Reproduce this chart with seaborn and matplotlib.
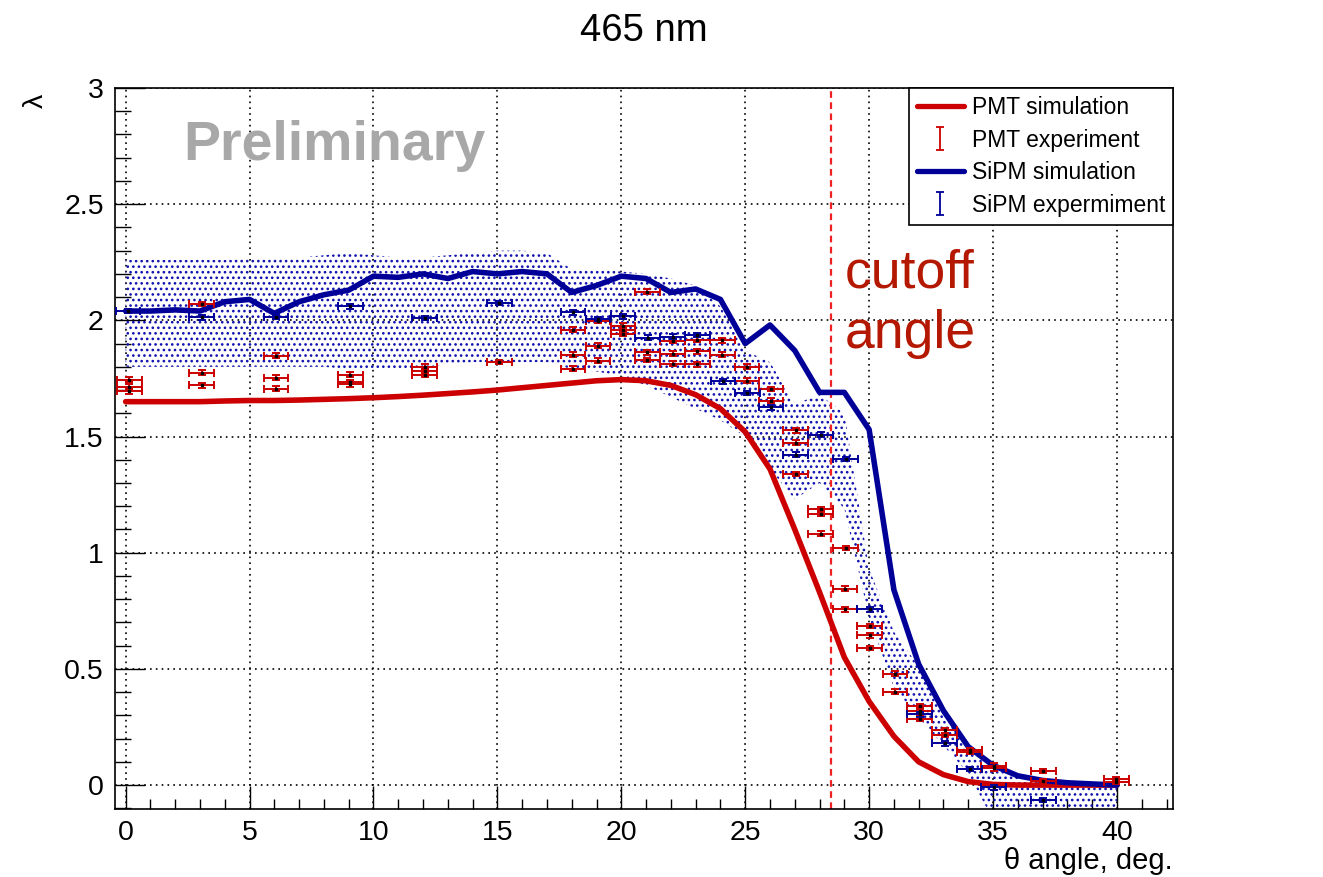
import numpy as np
import pandas as pd

import matplotlib
matplotlib.use("Agg")
import matplotlib.pyplot as plt
from matplotlib.lines import Line2D
from matplotlib.ticker import MultipleLocator

import seaborn as sns

# simulation curves, one value per degree (0..40)
sim_angle = list(range(0, 41))
pmt_sim = [1.65, 1.65, 1.65, 1.65, 1.653, 1.655, 1.655, 1.657, 1.66, 1.663,
           1.667, 1.672, 1.678, 1.685, 1.692, 1.70, 1.71, 1.72, 1.73, 1.74,
           1.745, 1.74, 1.72, 1.68, 1.62, 1.52, 1.36, 1.10, 0.83, 0.55,
           0.36, 0.21, 0.10, 0.045, 0.015, 0.003, 0.0, 0.0, 0.0, 0.0, 0.0]
sipm_sim = [2.04, 2.04, 2.045, 2.04, 2.08, 2.09, 2.03, 2.08, 2.11, 2.13,
            2.19, 2.185, 2.20, 2.18, 2.21, 2.20, 2.21, 2.20, 2.12, 2.15,
            2.19, 2.18, 2.12, 2.135, 2.09, 1.90, 1.98, 1.87, 1.69, 1.69,
            1.53, 0.84, 0.52, 0.32, 0.165, 0.085, 0.04, 0.02, 0.01, 0.005, 0.0]

# SiPM uncertainty band
band_upper = [2.26, 2.26, 2.26, 2.26, 2.26, 2.265, 2.27, 2.27, 2.28, 2.29,
              2.28, 2.27, 2.27, 2.28, 2.29, 2.30, 2.30, 2.29, 2.22, 2.22,
              2.21, 2.20, 2.18, 2.15, 2.06, 1.87, 1.82, 1.64, 1.68, 1.60,
              0.93, 0.66, 0.51, 0.31, 0.18, 0.09, 0.05, 0.03, 0.015, 0.005, 0.0]
band_lower = [1.80, 1.80, 1.80, 1.80, 1.80, 1.80, 1.80, 1.80, 1.80, 1.79,
              1.79, 1.79, 1.80, 1.81, 1.82, 1.82, 1.82, 1.82, 1.79, 1.78,
              1.76, 1.72, 1.67, 1.62, 1.57, 1.50, 1.36, 1.23, 1.30, 1.19,
              0.72, 0.42, 0.29, 0.17, 0.05, -0.15, -0.2, -0.2, -0.2, -0.2, -0.2]

# PMT measurements
pmt_x = [0.15, 0.15, 0.15, 3.07, 3.07, 3.07, 6.07, 6.07, 6.07, 9.07, 9.07, 9.07,
         12.07, 12.07, 12.07, 15.07, 18.05, 18.05, 18.05, 19.06, 19.06, 19.06,
         20.07, 20.07, 20.07, 21.05, 21.05, 21.05, 22.08, 22.08, 22.08,
         23.06, 23.06, 23.06, 24.07, 24.07, 25.07, 25.07, 26.04, 26.04,
         27.04, 27.04, 27.04, 28.05, 28.05, 28.05, 29.05, 29.03, 29.03,
         30.03, 30.03, 30.03, 31.04, 31.04, 32.04, 32.04, 32.04, 33.05, 33.05,
         34.06, 34.06, 35.03, 35.03, 37.03, 37.03, 39.98, 39.98]
pmt_y = [1.745, 1.715, 1.695, 2.07, 1.775, 1.72, 1.848, 1.753, 1.706, 1.766, 1.735, 1.725,
         1.80, 1.78, 1.765, 1.82, 1.96, 1.852, 1.792, 1.998, 1.891, 1.826,
         1.977, 1.96, 1.943, 2.124, 1.862, 1.83, 1.912, 1.856, 1.813,
         1.917, 1.866, 1.81, 1.914, 1.852, 1.801, 1.74, 1.704, 1.654,
         1.526, 1.473, 1.339, 1.186, 1.168, 1.082, 1.021, 0.845, 0.756,
         0.685, 0.645, 0.59, 0.48, 0.402, 0.34, 0.318, 0.286, 0.236, 0.215,
         0.15, 0.143, 0.083, 0.072, 0.061, 0.018, 0.026, 0.015]

# SiPM measurements
sipm_x = [0.1, 3.07, 6.07, 9.07, 12.07, 15.07, 18.05, 19.06, 20.07, 21.07, 22.08,
          23.06, 24.1, 25.09, 26.04, 27.04, 28.05, 29.05, 30.03, 32.04, 33.05,
          34.06, 35.03, 37.03]
sipm_y = [2.04, 2.013, 2.015, 2.06, 2.01, 2.075, 2.035, 2.006, 2.017, 1.926, 1.93,
          1.937, 1.737, 1.687, 1.625, 1.422, 1.508, 1.403, 0.756, 0.305, 0.18,
          0.069, -0.01, -0.064]

angle_err = 0.5
lambda_err = 0.01
cutoff_angle = 28.45

red = "#CC0000"
blue = "#000099"

sim_df = pd.DataFrame({"angle": sim_angle, "pmt": pmt_sim, "sipm": sipm_sim})

sns.set_theme(style="ticks")
plt.rcParams["font.family"] = ["Liberation Sans", "DejaVu Sans"]
plt.rcParams["hatch.linewidth"] = 1.1
plt.rcParams["text.color"] = "black"
plt.rcParams["xtick.color"] = "black"
plt.rcParams["ytick.color"] = "black"
plt.rcParams["xtick.labelcolor"] = "black"
plt.rcParams["ytick.labelcolor"] = "black"

fig = plt.figure(figsize=(13.23, 8.77), dpi=100)
ax = fig.add_axes([0.0869, 0.0775, 0.7997, 0.8222])

# uncertainty band of the SiPM simulation
ax.fill_between(sim_angle, band_lower, band_upper, facecolor="none",
                edgecolor="#1010B0", hatch="...", linewidth=0, zorder=1)

sns.lineplot(data=sim_df, x="angle", y="pmt", color=red, linewidth=4.0, ax=ax, zorder=3)
sns.lineplot(data=sim_df, x="angle", y="sipm", color=blue, linewidth=4.0, ax=ax, zorder=3)

ax.errorbar(pmt_x, pmt_y, xerr=angle_err, yerr=lambda_err, fmt="s", ms=1.8,
            mfc="black", mec="black", ecolor=red, elinewidth=1.4, capsize=3.2,
            capthick=1.4, zorder=4)
ax.errorbar(sipm_x, sipm_y, xerr=angle_err, yerr=lambda_err, fmt="s", ms=1.8,
            mfc="black", mec="black", ecolor=blue, elinewidth=1.4, capsize=3.2,
            capthick=1.4, zorder=4)

# marks the cutoff angle
ax.axvline(cutoff_angle, color="#EE2222", linestyle=(0, (3, 2)), linewidth=1.6, zorder=2)

ax.set_xlim(-0.43, 42.26)
ax.set_ylim(-0.103, 3.0)
ax.xaxis.set_minor_locator(MultipleLocator(1))
ax.yaxis.set_minor_locator(MultipleLocator(0.1))
ax.set_yticks([0, 0.5, 1, 1.5, 2, 2.5, 3])
ax.set_yticklabels(["0", "0.5", "1", "1.5", "2", "2.5", "3"])
ax.set_xticks(range(0, 45, 5))
ax.set_xticklabels([str(v) for v in range(0, 45, 5)])
ax.tick_params(axis="both", which="both", direction="in", top=False, right=False,
               width=1.0, color="black", labelcolor="black", labelsize=20.5, pad=8)
ax.tick_params(axis="x", which="major", length=16.5)
ax.tick_params(axis="x", which="minor", length=7.5)
ax.tick_params(axis="y", which="major", length=21.5)
ax.tick_params(axis="y", which="minor", length=11.5)
ax.grid(True, which="major", color="black", linestyle=(0, (1, 2.5)), linewidth=1.2)
for side in ax.spines.values():
    side.set_linewidth(1.2)
    side.set_color("black")

ax.set_xlabel("")
ax.set_ylabel("")
ax.text(1.0, -0.053, "θ angle, deg.", transform=ax.transAxes, ha="right", va="top",
        fontsize=21, color="black")
fig.text(0.027, 0.885, "λ", rotation=90, ha="center", va="center", fontsize=20.5,
         color="black")
fig.text(0.4868, 0.965, "465 nm", ha="center", va="center", fontsize=27.5,
         color="black")

ax.text(2.31, 2.69, "Preliminary", fontsize=40, fontweight="bold", color="#A8A8A8",
        ha="left", va="baseline", zorder=5)
ax.text(29.03, 2.14, "cutoff", fontsize=38.5, color="#B41800", ha="left",
        va="baseline", zorder=5)
ax.text(29.03, 1.88, "angle", fontsize=38.5, color="#B41800", ha="left",
        va="baseline", zorder=5)

# legend
pmt_sim_line = Line2D([0], [0], color=red, linewidth=3.8)
sipm_sim_line = Line2D([0], [0], color=blue, linewidth=3.8)
pmt_exp = ax.errorbar([np.nan], [np.nan], yerr=[0.1], fmt="none", ecolor=red,
                      elinewidth=1.3, capsize=3, capthick=1.3)
sipm_exp = ax.errorbar([np.nan], [np.nan], yerr=[0.1], fmt="none", ecolor=blue,
                       elinewidth=1.3, capsize=3, capthick=1.3)
leg = ax.legend(handles=[pmt_sim_line, pmt_exp, sipm_sim_line, sipm_exp],
                labels=["PMT simulation", "PMT experiment", "SiPM simulation",
                        "SiPM expermiment"],
                loc="upper right", bbox_to_anchor=(1.0, 1.0), borderaxespad=0,
                fontsize=16.5, frameon=True, fancybox=False, framealpha=1,
                edgecolor="black", handlelength=2.05, handletextpad=0.35,
                labelspacing=0.42, borderpad=0.35, labelcolor="black")
leg.get_frame().set_linewidth(1.2)
leg.set_zorder(6)

plt.savefig("out.png", dpi=100)
